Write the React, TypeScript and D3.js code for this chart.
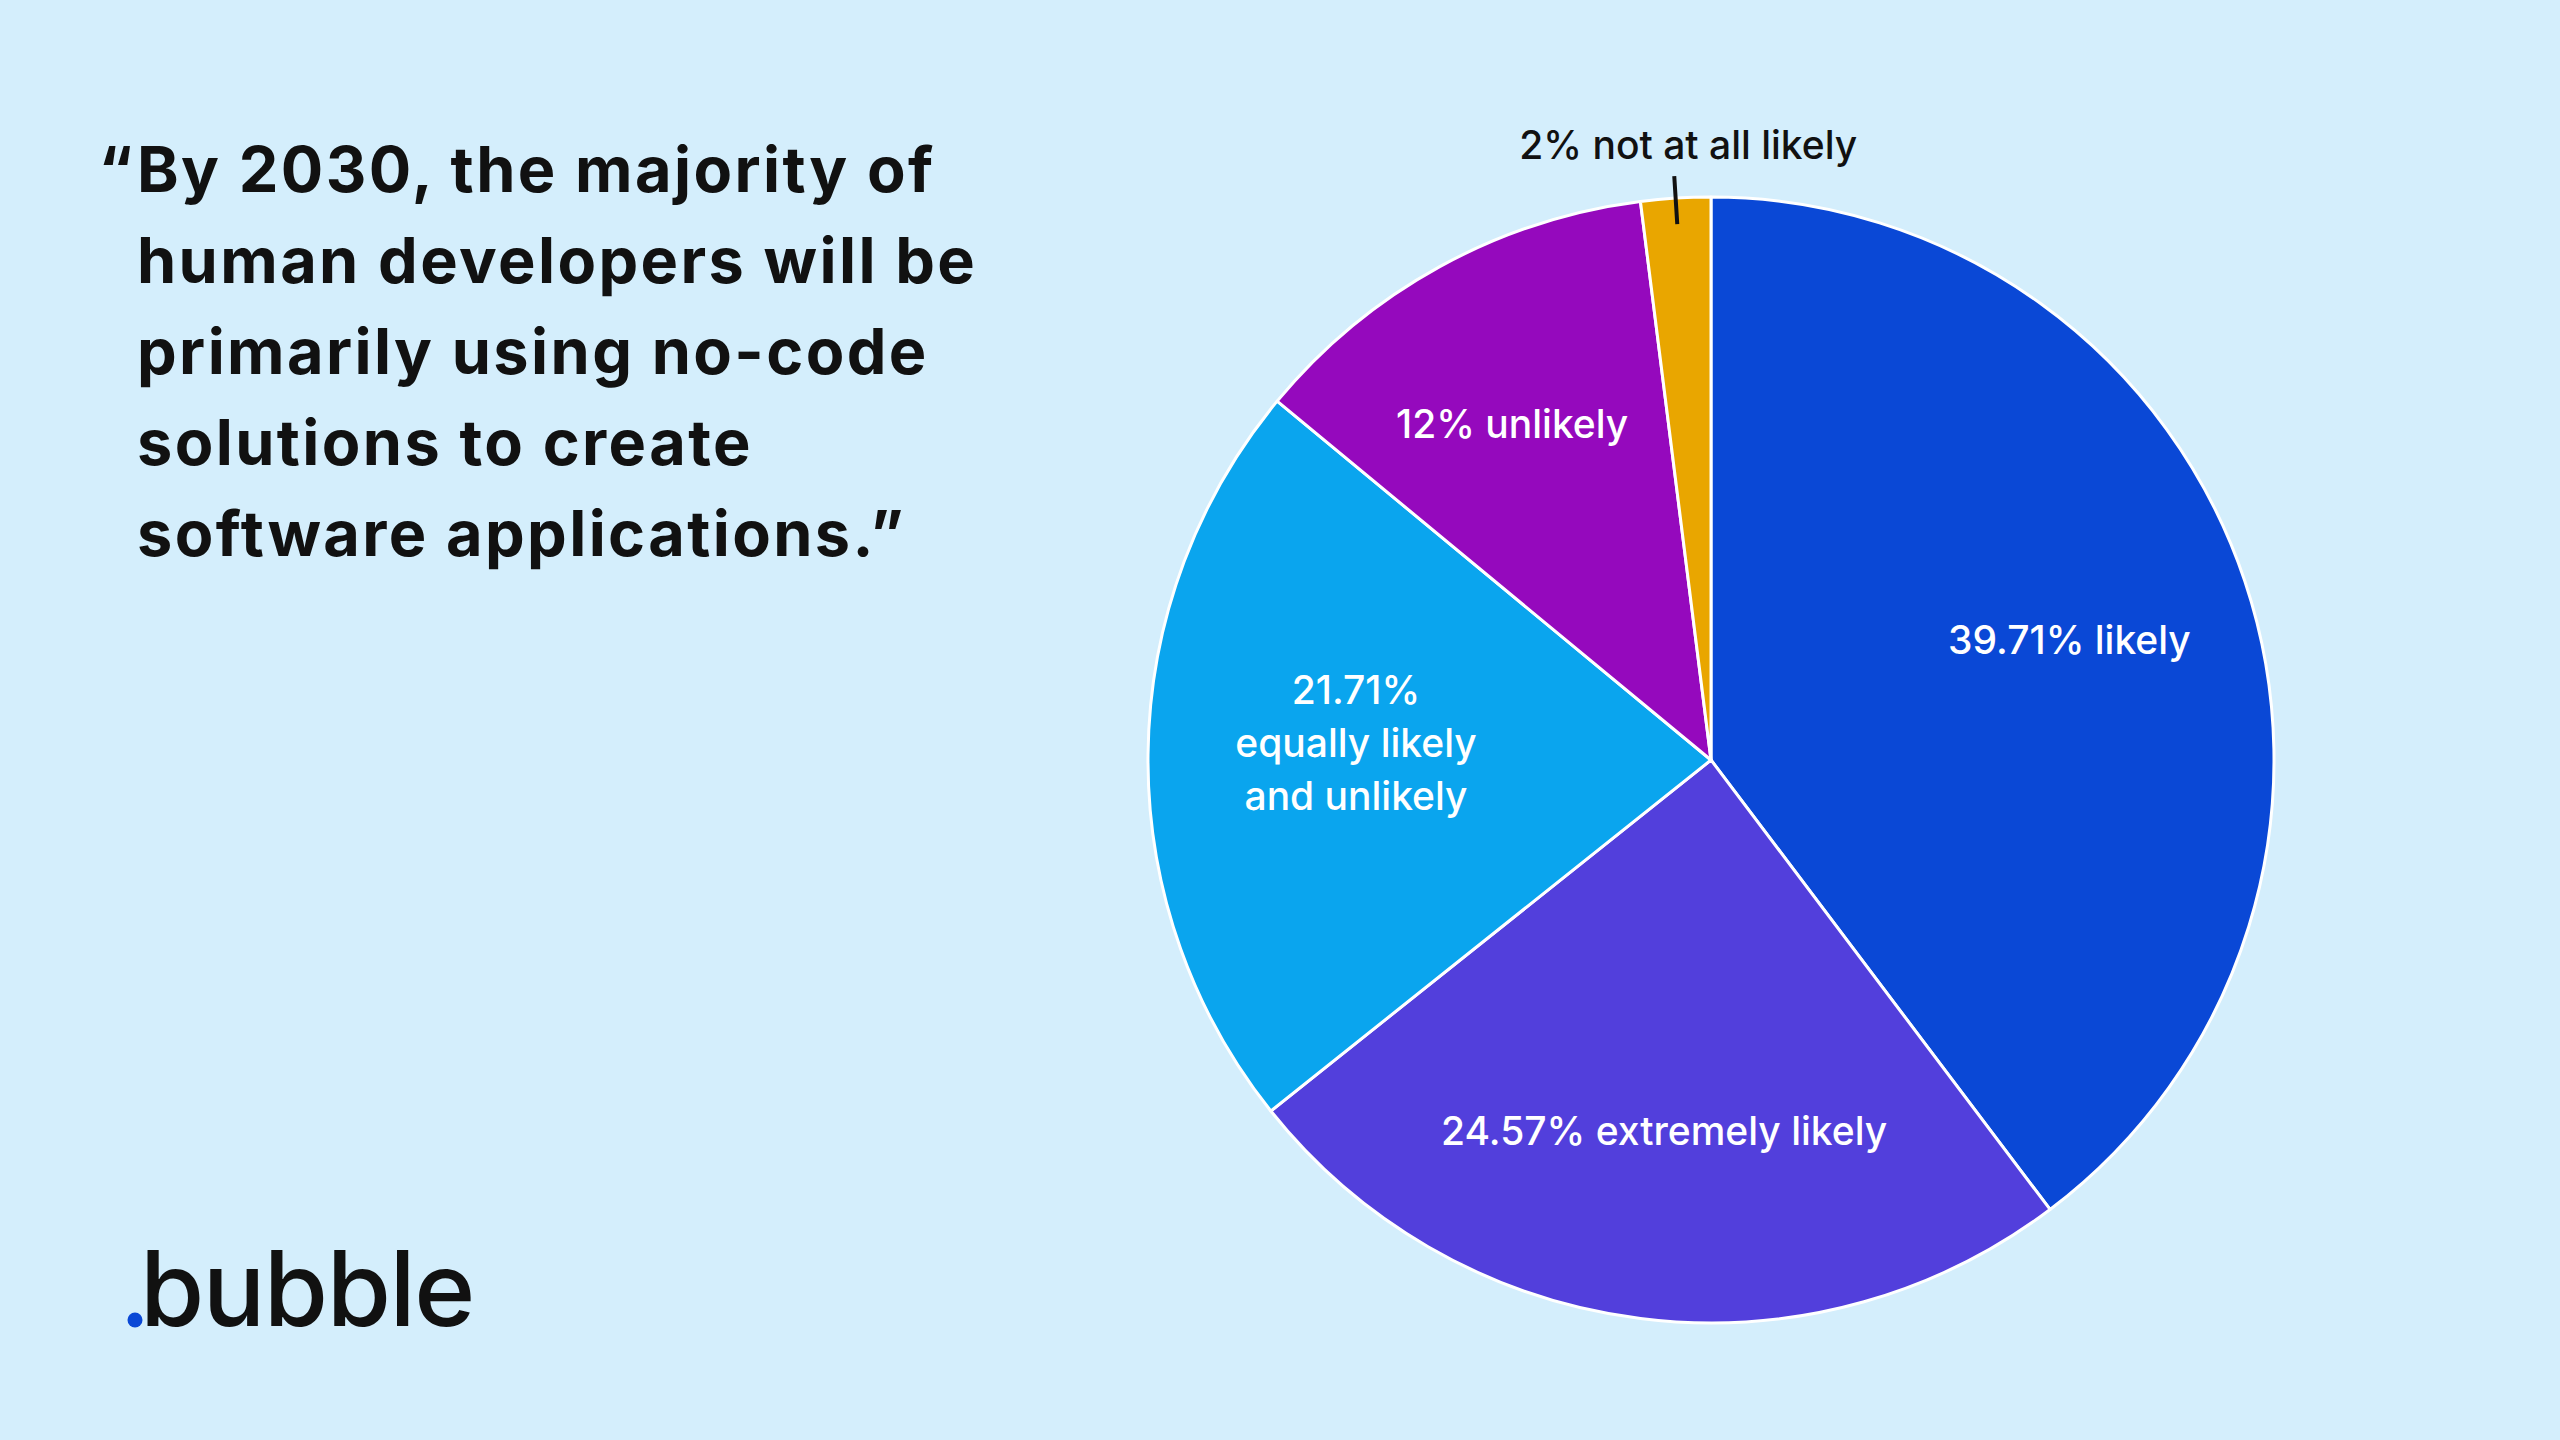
import React from "react";
import * as d3 from "d3";

// ---- data ----
const categories = [
  "likely",
  "extremely likely",
  "equally likely and unlikely",
  "unlikely",
  "not at all likely",
];
const values = [39.71, 24.57, 21.71, 12, 2];
const labelLines = [
  ["39.71% likely"],
  ["24.57% extremely likely"],
  ["21.71%", "equally likely", "and unlikely"],
  ["12% unlikely"],
  ["2% not at all likely"],
];
const sliceColors = ["#0A48D6", "#523FDC", "#0AA5EE", "#9509BD", "#E9A600"];
const titleLines = [
  "By 2030, the majority of",
  "human developers will be",
  "primarily using no-code",
  "solutions to create",
  "software applications.”",
];

// ---- layout ----
const W = 2560;
const H = 1440;
const cx = 1711;
const cy = 760;
const R = 563;
const labelRadius = [378, 374, 355, 392];
const labelNudge = [
  [0, 0],
  [0, 0],
  [0, -14],
  [-10, 7],
];
const FONT = "Inter, 'Noto Sans', sans-serif";

export default function App() {
  const pie = d3
    .pie<number>()
    .sort(null)
    .value((d) => d)
    .startAngle(0)
    .endAngle(2 * Math.PI);
  const arcs = pie(values);
  const arcGen = d3.arc<d3.PieArcDatum<number>>().innerRadius(0).outerRadius(R);

  const outside = arcs[4];
  const mid = (outside.startAngle + outside.endAngle) / 2;
  const leadIn = 537;
  const leadOut = 585;
  const lx1 = Math.sin(mid) * leadIn;
  const ly1 = -Math.cos(mid) * leadIn;
  const lx2 = Math.sin(mid) * leadOut;
  const ly2 = -Math.cos(mid) * leadOut;

  return (
    <svg
      width={W}
      height={H}
      viewBox={`0 0 ${W} ${H}`}
      style={{ position: "absolute", left: 0, top: 0, display: "block" }}
    >
      <rect x={0} y={0} width={W} height={H} fill="#D4EEFC" />

      {/* title quote */}
      <g
        fontFamily={FONT}
        fontWeight={700}
        fontSize={63}
        letterSpacing={2.4}
        fill="#111111"
      >
        <text x={135} y={192} textAnchor="end">“</text>
        {titleLines.map((t, i) => (
          <text key={i} x={137} y={192 + i * 91}>
            {t}
          </text>
        ))}
      </g>

      {/* logo */}
      <g>
        <circle cx={135} cy={1320} r={7.5} fill="#0A48D6" />
        <text
          x={140}
          y={1326}
          fontFamily={FONT}
          fontWeight={500}
          fontSize={104}
          letterSpacing={-1.5}
          fill="#111111"
        >
          bubble
        </text>
      </g>

      {/* pie */}
      <g transform={`translate(${cx},${cy})`}>
        {arcs.map((a, i) => (
          <path
            key={categories[i]}
            d={arcGen(a) || ""}
            fill={sliceColors[i]}
            stroke="#FFFFFF"
            strokeWidth={3}
            strokeLinejoin="round"
          />
        ))}

        {arcs.slice(0, 4).map((a, i) => {
          const r = labelRadius[i];
          const [cx0, cy0] = d3
            .arc<d3.PieArcDatum<number>>()
            .innerRadius(r)
            .outerRadius(r)
            .centroid(a);
          const px = cx0 + labelNudge[i][0];
          const py = cy0 + labelNudge[i][1];
          const lines = labelLines[i];
          const lh = 53;
          const first = py - ((lines.length - 1) / 2) * lh + 14;
          return (
            <text
              key={"l" + i}
              textAnchor="middle"
              fontFamily={FONT}
              fontWeight={500}
              fontSize={39}
              fill="#FFFFFF"
            >
              {lines.map((ln, j) => (
                <tspan key={j} x={px} y={first + j * lh}>
                  {ln}
                </tspan>
              ))}
            </text>
          );
        })}

        <line
          x1={lx1}
          y1={ly1}
          x2={lx2}
          y2={ly2}
          stroke="#111111"
          strokeWidth={4}
        />
        <text
          x={lx2 + 14}
          y={ly2 - 17}
          textAnchor="middle"
          fontFamily={FONT}
          fontWeight={500}
          fontSize={39}
          fill="#111111"
        >
          {labelLines[4][0]}
        </text>
      </g>
    </svg>
  );
}
